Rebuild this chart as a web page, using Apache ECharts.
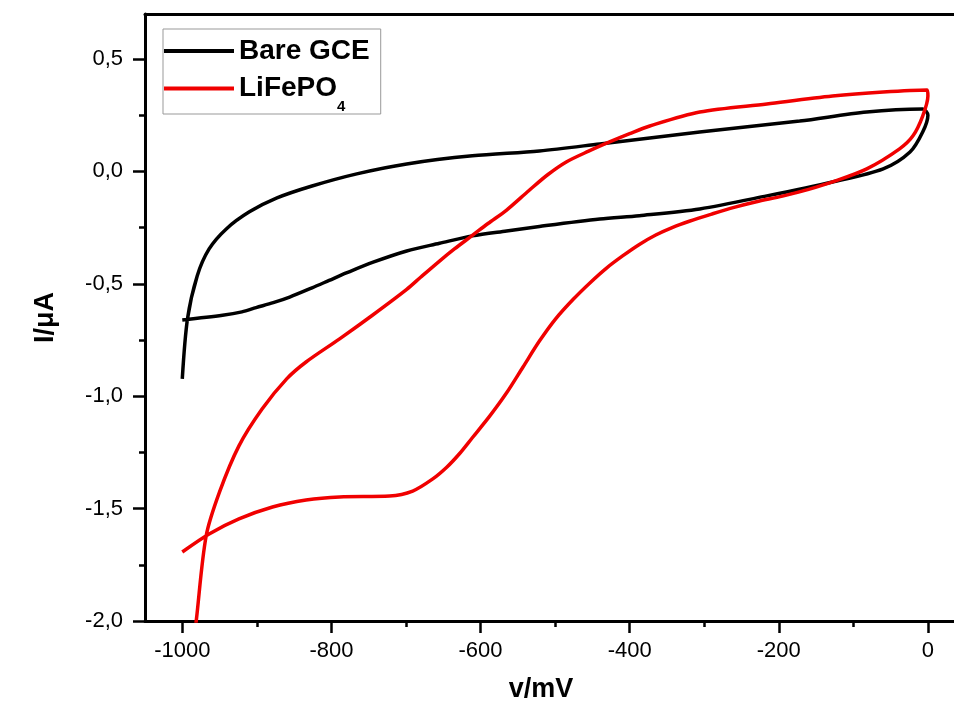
<!DOCTYPE html>
<html><head><meta charset="utf-8">
<script src="https://cdn.jsdelivr.net/npm/echarts@6/dist/echarts.min.js"></script>
<style>html,body{margin:0;padding:0;background:#fff}#c{width:954px;height:711px}</style>
</head><body><div id="c"></div>
<script>
// Tick values
var xMajorTicks = [-1000, -800, -600, -400, -200, 0];
var xMinorTicks = [-900, -700, -500, -300, -100];
var yMajorTicks = [-2.0, -1.5, -1.0, -0.5, 0.0, 0.5];
var yMinorTicks = [-1.75, -1.25, -0.75, -0.25, 0.25];

// Bare GCE: forward sweep (-1000 -> 0), then reverse (0 -> -1000)
var bareX = [-1000, -946, -920, -901, -878, -856, -826, -803, -780, -744, -699, -655, -611, -565, -521, -440, -387, -306, -216, -128, -60, -24, -7, 0,
  -7, -82, -172, -306, -440, -521, -611, -699, -766, -826, -873, -910, -941, -964, -980, -993, -1000];
var bareY = [-0.661, -0.640, -0.625, -0.606, -0.584, -0.559, -0.518, -0.485, -0.452, -0.404, -0.354, -0.320, -0.287, -0.265, -0.245, -0.212, -0.197, -0.167, -0.109, -0.047, 0.011, 0.086, 0.175, 0.250,
  0.277, 0.264, 0.224, 0.175, 0.122, 0.091, 0.069, 0.033, -0.011, -0.065, -0.118, -0.180, -0.256, -0.345, -0.465, -0.656, -0.923];

// LiFePO4: forward sweep then reverse
var lfpX = [-1000, -964, -924, -879, -834, -789, -722, -691, -664, -645, -628, -611, -588, -565, -543, -521, -499, -476, -453, -431, -409, -387, -365, -343, -320, -290, -260, -230, -195, -160, -128, -82, -38, -20, -7, 0,
  -1, -60, -128, -216, -306, -373, -400, -427, -455, -485, -510, -535, -565, -590, -611, -635, -655, -680, -699, -745, -789, -834, -860, -893, -924, -950, -968, -981, -984];
var lfpY = [-1.693, -1.613, -1.546, -1.493, -1.462, -1.448, -1.444, -1.422, -1.368, -1.315, -1.255, -1.185, -1.090, -0.985, -0.870, -0.755, -0.655, -0.570, -0.495, -0.430, -0.375, -0.325, -0.283, -0.250, -0.222, -0.190, -0.160, -0.135, -0.110, -0.080, -0.047, 0.011, 0.100, 0.158, 0.246, 0.335,
  0.362, 0.353, 0.335, 0.300, 0.264, 0.202, 0.168, 0.131, 0.090, 0.042, -0.015, -0.085, -0.172, -0.232, -0.285, -0.345, -0.399, -0.470, -0.525, -0.640, -0.745, -0.848, -0.923, -1.057, -1.221, -1.426, -1.622, -1.991, -2.08];

function pairs(xs, ys){ return xs.map(function(x,i){ return [x, ys[i]]; }); }
function fmtY(v){ return v.toFixed(1).replace('.', ','); }
function fmtX(v){ return String(Math.round(v)); }

var chart = echarts.init(document.getElementById('c'));
var FONT = 'Liberation Sans, Arial, sans-serif';
var RED = '#f00000';
chart.setOption({
  backgroundColor: '#fff',
  animation: false,
  grid: { left: 145, right: 0, top: 14, bottom: 90, show: false },
  legend: {
    left: 163, top: 29, orient: 'vertical',
    padding: [8, 11, 0, 1],
    itemGap: -2,
    itemWidth: 70, itemHeight: 4, icon: 'rect',
    borderColor: '#999', borderWidth: 1,
    data: ['Bare GCE', 'LiFePO4'],
    formatter: function(n){ return n === 'LiFePO4' ? '{a|LiFePO}{s|4}' : '{a|' + n + '}'; },
    textStyle: {
      fontFamily: FONT, fontWeight: 'bold', fontSize: 28, color: '#000',
      rich: {
        a: { fontFamily: FONT, fontWeight: 'bold', fontSize: 28, lineHeight: 30, color: '#000' },
        s: { fontFamily: FONT, fontWeight: 'bold', fontSize: 15, lineHeight: 15, padding: [36, 0, 0, 0], color: '#000' }
      }
    }
  },
  xAxis: [{
    type: 'value', min: -1050, max: 35,
    name: 'v/mV', nameLocation: 'middle', nameGap: 55,
    nameTextStyle: { fontFamily: FONT, fontWeight: 'bold', fontSize: 27, color: '#000', padding: [0, 17, 0, 0] },
    axisLine: { show: true, onZero: false, lineStyle: { color: '#000', width: 3 } },
    axisTick: { show: true, inside: false, length: 12, customValues: xMajorTicks, lineStyle: { color: '#000', width: 2.5 } },
    axisLabel: { show: true, customValues: xMajorTicks, margin: 19, fontFamily: FONT, fontSize: 22, color: '#000', formatter: fmtX },
    splitLine: { show: false }
  }, {
    type: 'value', min: -1050, max: 35, position: 'bottom',
    axisLine: { show: false, onZero: false },
    axisTick: { show: true, inside: false, length: 6, customValues: xMinorTicks, lineStyle: { color: '#000', width: 2.5 } },
    axisLabel: { show: false },
    splitLine: { show: false }
  }, {
    type: 'value', min: -1050, max: 35, position: 'top',
    axisLine: { show: true, onZero: false, lineStyle: { color: '#000', width: 3 } },
    axisTick: { show: false }, axisLabel: { show: false }, splitLine: { show: false }
  }],
  yAxis: [{
    type: 'value', min: -2.0, max: 0.7,
    name: 'I/\u03bcA', nameLocation: 'middle', nameGap: 86, nameRotate: 90,
    nameTextStyle: { fontFamily: FONT, fontWeight: 'bold', fontSize: 27, color: '#000' },
    axisLine: { show: true, onZero: false, lineStyle: { color: '#000', width: 3 } },
    axisTick: { show: true, inside: false, length: 12, customValues: yMajorTicks, lineStyle: { color: '#000', width: 2.5 } },
    axisLabel: { show: true, customValues: yMajorTicks, margin: 22, fontFamily: FONT, fontSize: 22, color: '#000', formatter: fmtY },
    splitLine: { show: false }
  }, {
    type: 'value', min: -2.0, max: 0.7, position: 'left',
    axisLine: { show: false, onZero: false },
    axisTick: { show: true, inside: false, length: 6, customValues: yMinorTicks, lineStyle: { color: '#000', width: 2.5 } },
    axisLabel: { show: false },
    splitLine: { show: false }
  }],
  series: [{
    name: 'Bare GCE', type: 'line', xAxisIndex: 0, yAxisIndex: 0,
    data: pairs(bareX, bareY), showSymbol: false, symbol: 'none', smooth: 0.3,
    color: '#000', lineStyle: { color: '#000', width: 3.5 }, clip: true
  }, {
    name: 'LiFePO4', type: 'line', xAxisIndex: 0, yAxisIndex: 0,
    data: pairs(lfpX, lfpY), showSymbol: false, symbol: 'none', smooth: 0.3,
    color: RED, lineStyle: { color: RED, width: 3.5 }, clip: true
  }]
});
</script></body></html>
